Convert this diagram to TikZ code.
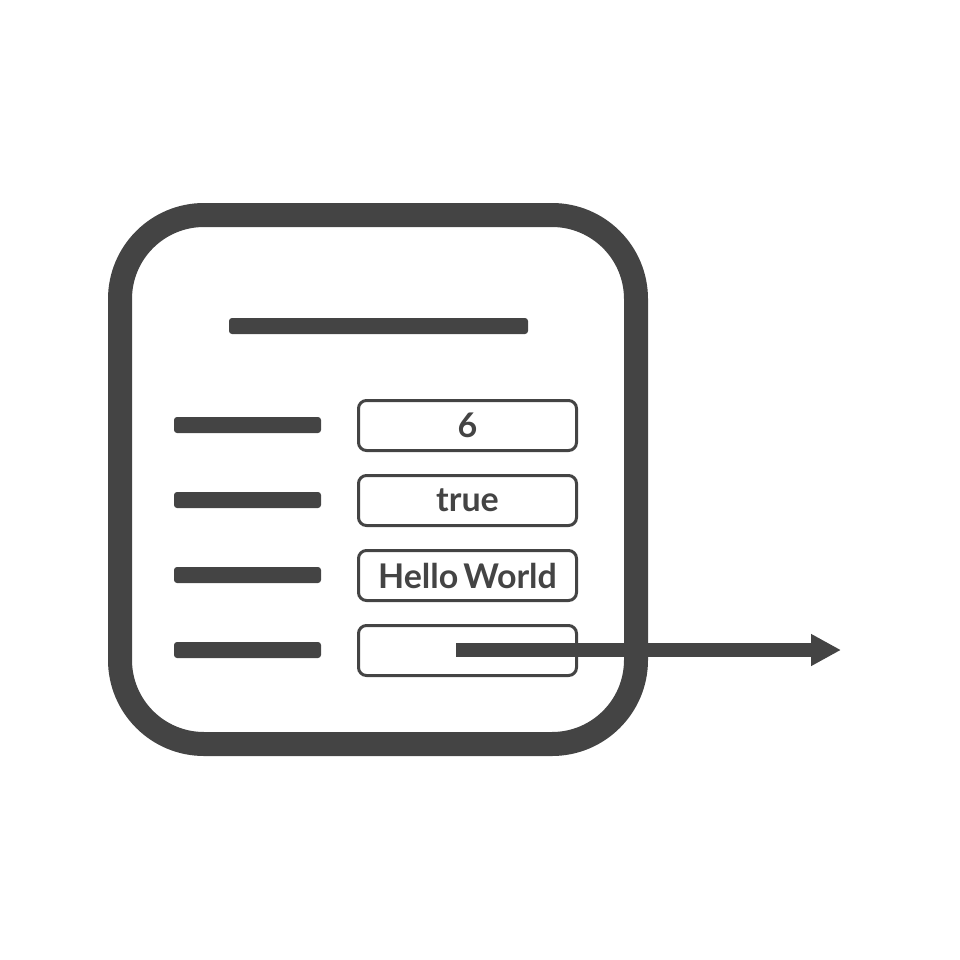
\documentclass[tikz,border=0pt]{standalone}
\usepackage{fontspec}
\setmainfont{Lato}
\usepackage{tikz}
\usetikzlibrary{arrows.meta}

\definecolor{cardgray}{HTML}{444444}

\begin{document}
\begin{tikzpicture}[x=1pt, y=-1pt,
    bar/.style={fill=cardgray, rounded corners=3pt, minimum height=16pt, inner sep=0pt},
    valuebox/.style={draw=cardgray, text=cardgray, line width=3pt, rounded corners=8pt,
      minimum width=218pt, minimum height=50pt, inner sep=0pt,
      font=\fontsize{34}{40}\selectfont\bfseries}]
  \useasboundingbox (0, 0) rectangle (960, 960);

  % Card
  \node [draw=cardgray, line width=24pt, rounded corners=84pt,
    minimum width=516pt, minimum height=529pt] (card) at (378, 479.5) {};

  % Title
  \node [bar, minimum width=299pt] (title) at (378.5, 326) {};

  % Fields and values
  \node [bar, minimum width=147pt] (field1) at (247.5, 425) {};
  \node [bar, minimum width=147pt] (field2) at (247.5, 500) {};
  \node [bar, minimum width=147pt] (field3) at (247.5, 575) {};
  \node [bar, minimum width=147pt] (field4) at (247.5, 650) {};

  \node [valuebox] (value1) at (467.5, 425.5) {6};
  \node [valuebox] (value2) at (467.5, 500.5) {true};
  \node [valuebox] (value3) at (467.5, 575.5) {Hello\hspace{-0.1em} World};
  \node [valuebox] (value4) at (467.5, 650.5) {};

  % Reference out of the card
  \coordinate (ref) at (456, 650);
  \coordinate (target) at (841, 650);
  \draw [cardgray, line width=14pt, -{Triangle[length=30pt, width=30pt]}] (ref) -- (target);
\end{tikzpicture}
\end{document}
